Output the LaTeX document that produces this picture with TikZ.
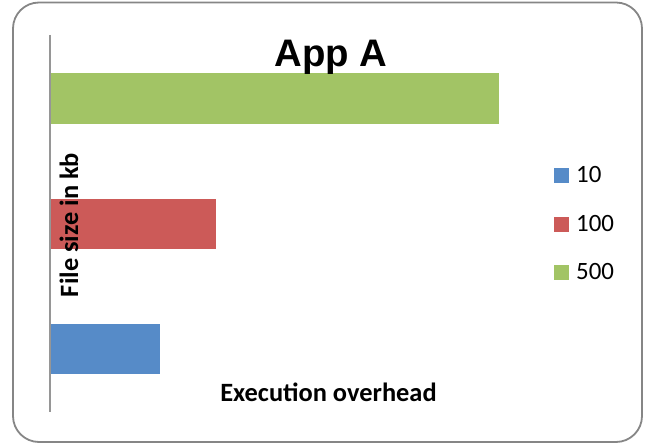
\documentclass[tikz,border=0pt]{standalone}
\usepackage{fontspec}
\setmainfont{Carlito}
\newfontfamily\titlefont{Liberation Sans}
\definecolor{barblue}{RGB}{86,139,200}
\definecolor{barred}{RGB}{204,90,88}
\definecolor{bargreen}{RGB}{162,196,101}
\definecolor{framegray}{RGB}{134,134,134}
\definecolor{axisgray}{RGB}{150,150,150}
\begin{document}
\begin{tikzpicture}[x=1bp,y=-1bp,
  bar/.style={inner sep=0pt, outer sep=0pt},
  legsq/.style={inner sep=0pt, minimum width=15bp, minimum height=15bp},
  legtxt/.style={anchor=base west, inner sep=0pt, font=\fontsize{25}{25}\selectfont},
  lbl/.style={inner sep=0pt, font=\bfseries\fontsize{26.5}{26.5}\selectfont}]
\useasboundingbox (0,0) rectangle (648,445);
\draw[framegray, line width=1.8bp, rounded corners=26bp] (13,2.5) rectangle (642,442);
% bars
\fill[bargreen] (50,73) rectangle (499,124) node[coordinate] (g) {};
\fill[barred] (50,199) rectangle (216,249) node[coordinate] (r) {};
\fill[barblue] (50,324) rectangle (160,374) node[coordinate] (b) {};
% axis
\coordinate (axtop) at (50,35);
\coordinate (axbot) at (50,412);
\draw[axisgray, line width=2.2bp] (axtop) -- (axbot);
% title
\node[anchor=base, inner sep=0pt, font=\titlefont\bfseries\fontsize{38.5}{38.5}\selectfont] (title) at (331,67) {App A};
% axis labels
\node[lbl, rotate=90, anchor=base] (ylab) at (78,225) {File size in kb};
\node[lbl, anchor=base] (xlab) at (328.5,401) {Execution overhead};
% legend
\node[legsq, fill=barblue, anchor=north west] (l1) at (554,168) {};
\node[legsq, fill=barred, anchor=north west] (l2) at (554,217) {};
\node[legsq, fill=bargreen, anchor=north west] (l3) at (554,265) {};
\node[legtxt] (t1) at (576,183) {10};
\node[legtxt] (t2) at (576,232) {100};
\node[legtxt] (t3) at (576,280) {500};
\end{tikzpicture}
\end{document}
